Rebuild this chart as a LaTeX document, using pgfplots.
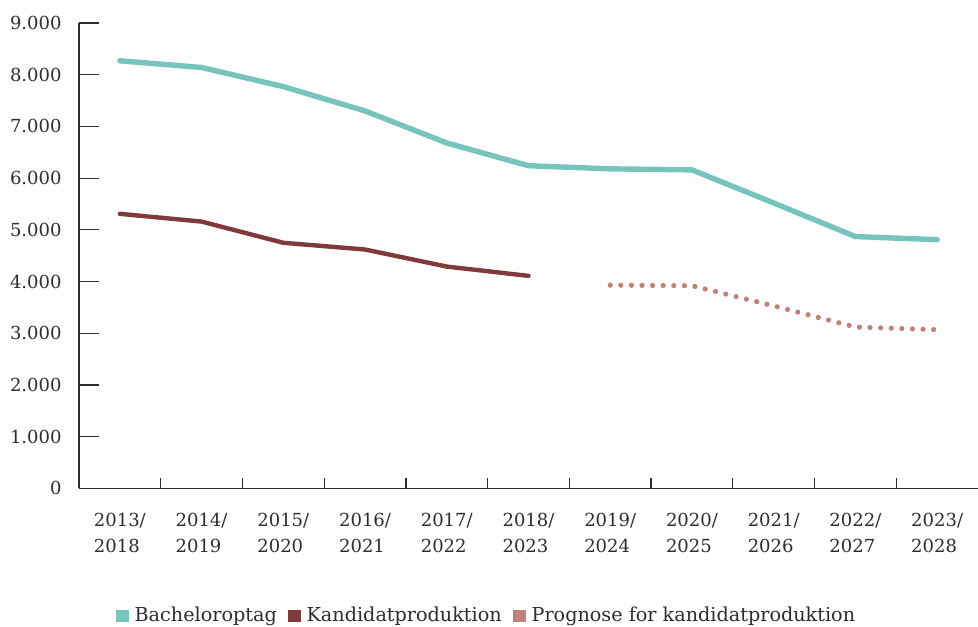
\documentclass[border=0pt]{standalone}
\usepackage{pgfplots}
\pgfplotsset{compat=1.18}
\usepackage{fontspec}
\setmainfont{DejaVu Serif}
\definecolor{bach}{RGB}{118,196,188}
\definecolor{kand}{RGB}{128,58,60}
\definecolor{prog}{RGB}{190,130,122}
\definecolor{axisgray}{RGB}{45,45,45}
\begin{document}
\begin{tikzpicture}
\path[use as bounding box] (-39.5pt,-69.2pt) rectangle (449.5pt,244.2pt);
\begin{axis}[
  scale only axis, width=449.5pt, height=232.7pt,
  xmin=-0.5, xmax=10.5, ymin=0, ymax=9000,
  axis lines*=left,
  axis line style={-, line width=0.6pt, draw=axisgray},
  xtick pos=bottom, ytick pos=left,
  tick align=inside,
  major tick length=10pt,
  minor tick length=5pt,
  tick style={line width=0.6pt, draw=axisgray},
  ytick={0,1000,...,9000},
  scaled y ticks=false,
  yticklabel style={/pgf/number format/1000 sep={.}, /pgf/number format/assume math mode=true,
     font=\fontsize{9}{10}\selectfont, text=axisgray, xshift=-5.2pt},
  xtick={0,1,...,10},
  minor x tick num=1,
  major x tick style={draw=none},
  xticklabels={{2013/\\2018},{2014/\\2019},{2015/\\2020},{2016/\\2021},{2017/\\2022},{2018/\\2023},{2019/\\2024},{2020/\\2025},{2021/\\2026},{2022/\\2027},{2023/\\2028}},
  xticklabel style={align=left, font=\fontsize{9}{13}\selectfont, text=axisgray, yshift=-8.7pt},
  legend columns=3,
  legend style={at={(0.4555,-0.2745)}, anchor=center, draw=none, fill=none,
     font=\fontsize{9.6}{11}\selectfont, text=axisgray,
     nodes={inner xsep=3pt},
     /tikz/every even column/.append style={column sep=2.5pt},
     /tikz/every odd column/.append style={column sep=0pt}},
  legend cell align=left,
]
\addplot[bach, line width=2.7pt, line join=round, line cap=round,
  legend image code/.code={\path[fill=bach, draw=none] (0pt,-3.1pt) rectangle (6.4pt,3.3pt);}]
  coordinates {(0,8270)(1,8140)(2,7770)(3,7300)(4,6680)(5,6240)(6,6180)(7,6160)(8,5520)(9,4870)(10,4810)};
\addlegendentry{Bacheloroptag}
\addplot[kand, line width=2.2pt, line join=round, line cap=round,
  legend image code/.code={\path[fill=kand, draw=none] (0pt,-3.1pt) rectangle (6.4pt,3.3pt);}]
  coordinates {(0,5310)(1,5160)(2,4750)(3,4620)(4,4290)(5,4110)};
\addlegendentry{Kandidatproduktion}
\addplot[prog, line width=2.6pt, line cap=round, dash pattern=on 0pt off 5.3pt,
  legend image code/.code={\path[fill=prog, draw=none, solid] (0pt,-3.1pt) rectangle (6.4pt,3.3pt);}]
  coordinates {(6,3930)(7,3920)(8,3530)(9,3120)(10,3070)};
\addlegendentry{Prognose for kandidatproduktion}
\end{axis}
\end{tikzpicture}
\end{document}
